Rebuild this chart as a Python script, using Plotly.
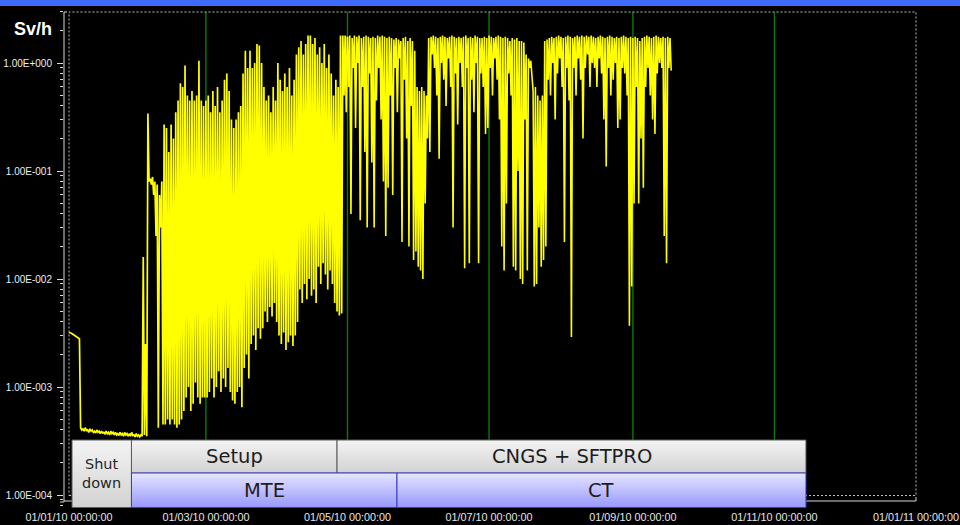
import numpy as np
import pandas as pd
import plotly.graph_objects as go

# Dose rate in Sv/h, one daily maximum (00:00) and one daily minimum (12:00)
jan_hi = [3.2e-3, 3.15e-3, 3.05e-3, 2.95e-3, 2.85e-3, 4.2e-4, 4.1e-4, 4.2e-4, 4.0e-4, 4.1e-4,
          4.0e-4, 3.9e-4, 4.0e-4, 3.9e-4, 3.9e-4, 3.8e-4, 3.9e-4, 3.8e-4, 3.9e-4, 3.8e-4,
          3.8e-4, 3.7e-4, 3.8e-4, 3.7e-4, 3.8e-4, 3.7e-4, 3.7e-4, 3.8e-4, 3.6e-4, 3.7e-4, 3.6e-4]
jan_lo = [3.2e-3, 3.1e-3, 3.0e-3, 2.9e-3, 2.8e-3, 4.0e-4, 3.9e-4, 3.95e-4, 3.8e-4, 3.9e-4,
          3.8e-4, 3.75e-4, 3.8e-4, 3.7e-4, 3.75e-4, 3.65e-4, 3.7e-4, 3.6e-4, 3.7e-4, 3.6e-4,
          3.6e-4, 3.55e-4, 3.6e-4, 3.5e-4, 3.6e-4, 3.5e-4, 3.5e-4, 3.55e-4, 3.45e-4, 3.5e-4, 3.45e-4]
feb_hi = [3.6e-4, 0.016, 2.5e-3, 0.34, 0.085, 0.088, 0.08, 0.075, 0.06, 0.08,
          0.27, 0.25, 0.15, 0.27, 0.2, 0.35, 0.45, 0.65, 0.6, 0.95,
          0.5, 0.45, 0.55, 0.45, 0.5, 1.05, 0.45, 0.4]
feb_lo = [3.5e-4, 3.6e-4, 3.5e-4, 0.08, 0.075, 0.06, 0.025, 4.2e-4, 0.03, 4.5e-4,
          4.5e-4, 5e-4, 4.5e-4, 5e-4, 4.5e-4, 4.2e-4, 4.5e-4, 5e-4, 6e-4, 8e-4,
          1.0e-3, 6e-4, 7e-4, 1.1e-3, 8e-4, 7e-4, 8e-4, 8e-4]
mar_hi = [0.45, 0.5, 0.35, 0.55, 0.4, 0.6, 0.35, 0.45, 0.7, 0.8,
          0.55, 0.3, 0.25, 0.3, 0.35, 0.4, 0.8, 1.3, 0.9, 1.3,
          0.9, 1.0, 1.5, 1.45, 1.0, 0.6, 0.45, 0.5, 0.35, 0.6, 0.45]
mar_lo = [8e-4, 9e-4, 1.2e-3, 8e-4, 1.0e-3, 1.4e-3, 9e-4, 1.2e-3, 1.0e-3, 1.5e-3,
          9e-4, 7.5e-4, 7e-4, 9e-4, 1e-3, 6.5e-4, 1.5e-3, 2e-3, 1.2e-3, 2.5e-3,
          3e-3, 2.2e-3, 3.5e-3, 2.8e-3, 3.5e-3, 5e-3, 4e-3, 5.5e-3, 4.5e-3, 6e-3, 4e-3]
apr_hi = [1.0, 0.7, 0.55, 0.8, 0.6, 0.9, 0.5, 0.7, 1.2, 1.4,
          1.6, 1.2, 1.5, 1.8, 1.8, 1.5, 1.7, 1.2, 1.4, 1.0,
          1.5, 0.9, 1.2, 0.8, 0.5, 0.7, 0.6, 1.8, 1.8, 1.8]
apr_lo = [3e-3, 2.5e-3, 3.2e-3, 2.2e-3, 2.6e-3, 3e-3, 2.4e-3, 3e-3, 4e-3, 8e-3,
          6e-3, 9e-3, 6.5e-3, 1e-2, 7e-3, 8e-3, 6e-3, 1.3e-2, 9e-3, 1.4e-2,
          1.1e-2, 8e-3, 1.2e-2, 9e-3, 6e-3, 5e-3, 4.6e-3, 4.8e-3, 0.5, 0.35]
may_hi = [1.75, 1.8, 1.7, 1.8, 1.75, 1.8, 1.7, 1.75, 1.8, 1.75,
          1.7, 1.75, 1.7, 1.8, 1.75, 1.8, 1.75, 1.7, 1.75, 1.7,
          1.65, 1.7, 1.65, 1.6, 1.7, 1.75, 1.6, 1.7, 1.6, 1.3, 0.6]
may_lo = [0.6, 0.04, 0.9, 0.25, 1.0, 0.035, 0.6, 0.15, 0.03, 0.8,
          0.12, 0.03, 0.45, 0.9, 0.3, 0.08, 0.025, 0.07, 0.5, 0.06,
          0.9, 0.35, 1.1, 0.022, 0.7, 0.2, 0.02, 0.4, 0.015, 0.018, 0.013]
jun_hi = [0.55, 0.6, 0.55, 0.5, 1.7, 1.75, 1.8, 1.75, 1.7, 1.75,
          1.8, 1.75, 1.7, 1.75, 1.8, 1.75, 1.7, 1.75, 1.7, 1.75,
          1.8, 1.7, 1.75, 1.7, 1.8, 1.75, 1.7, 1.7, 1.75, 1.7]
jun_lo = [0.012, 0.01, 0.05, 0.2, 0.15, 1.2, 0.9, 0.5, 0.13, 1.0,
          0.7, 0.4, 1.1, 0.6, 0.03, 0.8, 0.27, 1.0, 0.6, 0.0126,
          0.9, 0.014, 0.7, 0.35, 1.0, 0.014, 0.8, 0.6, 0.22, 0.25]
jul_hi = [1.8, 1.75, 1.7, 1.75, 1.8, 1.75, 1.7, 1.75, 1.7, 1.6,
          1.7, 1.65, 1.7, 1.6, 1.6, 1.55, 1.2, 1.1, 1.05, 0.55,
          0.6, 0.5, 0.45, 0.5, 1.6, 1.65, 1.7, 1.75, 1.7, 1.75, 1.8]
jul_lo = [0.9, 0.5, 1.1, 0.7, 0.3, 0.02, 0.012, 0.05, 0.8, 0.5,
          0.013, 0.012, 0.1, 0.01, 0.009, 0.3, 0.012, 0.9, 0.8, 0.0085,
          0.009, 0.03, 0.013, 0.015, 0.02, 0.7, 0.5, 1.0, 0.3, 0.8, 1.1]
aug_hi = [1.75, 1.7, 1.75, 1.8, 1.75, 1.7, 1.75, 1.8, 1.75, 1.8,
          1.75, 1.8, 1.75, 1.8, 1.75, 1.7, 1.75, 1.8, 1.75, 1.7,
          1.75, 1.8, 1.75, 1.7, 1.75, 1.7, 1.75, 1.8, 1.75, 1.7, 1.75]
aug_lo = [0.6, 0.022, 0.9, 0.45, 0.0029, 0.9, 0.5, 1.1, 0.7, 0.2,
          0.9, 1.2, 0.6, 1.0, 0.9, 0.6, 1.1, 0.8, 0.3, 0.11,
          0.9, 0.5, 0.7, 1.0, 0.25, 0.3, 0.9, 0.8, 0.5, 0.0037, 0.0085]
sep_hi = [1.7, 1.75, 1.7, 1.6, 1.7, 1.75, 1.8, 1.75, 1.7, 1.75,
          1.8, 1.75, 1.7, 1.75, 1.7, 1.75, 1.7]
sep_lo = [0.05, 0.6, 0.05, 0.2, 0.07, 0.6, 0.9, 0.5, 0.3, 0.22,
          0.8, 1.0, 0.9, 0.025, 0.014, 0.9, 0.85]

# Machine phases shown under the trace
shutdown_span = ["2010-01-02 07:00", "2010-01-27 22:00"]
beam_labels = ["Setup", "CNGS + SFTPRO"]
beam_edges = ["2010-01-27 22:00", "2010-04-26 12:00", "2010-11-14 14:00"]
extraction_labels = ["MTE", "CT"]
extraction_edges = ["2010-01-27 22:00", "2010-05-22 08:00", "2010-11-14 14:00"]

# Axis ticks
x_ticks = ["2010-01-01", "2010-03-01", "2010-05-01", "2010-07-01",
           "2010-09-01", "2010-11-01", "2011-01-01"]
y_exponents = [-4, -3, -2, -1, 0]

# ---------------------------------------------------------------------------
hi = jan_hi + feb_hi + mar_hi + apr_hi + may_hi + jun_hi + jul_hi + aug_hi + sep_hi
lo = jan_lo + feb_lo + mar_lo + apr_lo + may_lo + jun_lo + jul_lo + aug_lo + sep_lo
dose = []
for h, l in zip(hi, lo):
    dose += [h, l]
t_start = pd.Timestamp("2010-01-01")
times = t_start + pd.to_timedelta(np.arange(len(dose)) * 12, unit="h")

# the tightly cycling commissioning months are drawn with a heavier pen
n_dense = 2 * (len(jan_hi) + len(feb_hi) + len(mar_hi) + len(apr_hi))

# Page geometry (pixels)
PW, PH = 960, 525
L, R, T, B = 64, 918, 10, 509
W, H = R - L, B - T
X_FIRST, X_LAST = 69, 916        # pixel columns of the first / last date tick
Y_UNIT, Y_DECADE = 63, 108       # pixel row of 1 Sv/h, pixels per decade


def py(p):
    """Pixel row -> fraction of plot height."""
    return (B - p) / H


def px(p):
    """Pixel column -> fraction of plot width."""
    return (p - L) / W


t0, t1 = pd.Timestamp(x_ticks[0]), pd.Timestamp(x_ticks[-1])
per_px = (t1 - t0) / (X_LAST - X_FIRST)
x_range = [t0 - (X_FIRST - L) * per_px, t1 + (R - X_LAST) * per_px]
y_range = [-(B - Y_UNIT) / Y_DECADE, (Y_UNIT - T) / Y_DECADE]

fig = go.Figure()

fig.add_trace(go.Scatter(
    x=times[:n_dense + 1], y=dose[:n_dense + 1], mode="lines",
    line=dict(color="#ffff00", width=1.7),
    hoverinfo="skip", showlegend=False,
))
fig.add_trace(go.Scatter(
    x=times[n_dense:], y=dose[n_dense:], mode="lines",
    line=dict(color="#ffff00", width=1.6),
    hoverinfo="skip", showlegend=False,
))

TOP_ROW = (py(473), py(440))
BOT_ROW = (py(507.5), py(473))
GREY = dict(bottom="#d2d2d2", top="#f4f4f4", edge="#5c5c5c")
BLUE = dict(bottom="#9898fc", top="#e6e6ff", edge="#3a3ad0")


def box(x0, x1, y0, y1, style):
    fig.add_trace(go.Scatter(
        x=[x0, x1, x1, x0, x0], y=[y0, y0, y1, y1, y0],
        xaxis="x", yaxis="y2", mode="lines",
        line=dict(color=style["edge"], width=1),
        fill="toself",
        fillgradient=dict(type="vertical",
                          colorscale=[[0, style["bottom"]], [1, style["top"]]]),
        hoverinfo="skip", showlegend=False,
    ))


def midpoint(a, b):
    a, b = pd.Timestamp(a), pd.Timestamp(b)
    return a + (b - a) / 2


annotations = []
box(shutdown_span[0], shutdown_span[1], BOT_ROW[0], TOP_ROW[1], GREY)
annotations.append(dict(
    x=midpoint(*shutdown_span), y=(BOT_ROW[0] + TOP_ROW[1]) / 2, xref="x", yref="y2",
    text="Shut<br>down", showarrow=False,
    font=dict(family="DejaVu Sans", size=14.5, color="#262626")))
for i, lab in enumerate(beam_labels):
    box(beam_edges[i], beam_edges[i + 1], TOP_ROW[0], TOP_ROW[1], GREY)
    annotations.append(dict(
        x=midpoint(beam_edges[i], beam_edges[i + 1]), y=sum(TOP_ROW) / 2,
        xref="x", yref="y2", text=lab, showarrow=False,
        font=dict(family="DejaVu Sans", size=19.5, color="#1e1e1e")))
for i, lab in enumerate(extraction_labels):
    box(extraction_edges[i], extraction_edges[i + 1], BOT_ROW[0], BOT_ROW[1], BLUE)
    annotations.append(dict(
        x=midpoint(extraction_edges[i], extraction_edges[i + 1]), y=sum(BOT_ROW) / 2,
        xref="x", yref="y2", text=lab, showarrow=False,
        font=dict(family="DejaVu Sans", size=19.5, color="#1e1e1e")))

annotations.append(dict(
    x=px(54), y=py(29), xref="paper", yref="paper", xanchor="right", yanchor="middle",
    text="<b>Sv/h</b>", showarrow=False,
    font=dict(family="Liberation Sans", size=18, color="#ffffff")))

shapes = []
# window title strip
shapes.append(dict(type="rect", xref="paper", yref="paper",
                   x0=px(0), x1=px(PW), y0=py(6), y1=py(0),
                   fillcolor="#3f6bff", line=dict(width=0), layer="above"))
# month gridlines
for d in x_ticks[1:-1]:
    shapes.append(dict(type="line", xref="x", yref="y domain",
                       x0=d, x1=d, y0=py(495), y1=py(12),
                       line=dict(color="#0b7a0b", width=1.4), layer="below"))
# dotted frame of the data area
shapes.append(dict(type="rect", xref="x", yref="y domain",
                   x0=x_ticks[0], x1=x_ticks[-1], y0=py(495.5), y1=py(12),
                   line=dict(color="#bdbdbd", width=1, dash="2px,2px"), layer="below"))
# solid axis lines
shapes.append(dict(type="path", xref="paper", yref="paper",
                   path=f"M {px(67)},{py(12)} L {px(64)},{py(12)} L {px(64)},{py(502)} L {px(60)},{py(502)}",
                   line=dict(color="#d8d8d8", width=1), layer="below"))
shapes.append(dict(type="path", xref="paper", yref="paper",
                   path=f"M {px(64)},{py(501)} L {px(916)},{py(501)} L {px(916)},{py(497)}",
                   line=dict(color="#d8d8d8", width=1), layer="below"))

y_minor = [k * 10.0 ** e for e in range(-5, 1) for k in range(2, 10)]

fig.update_layout(
    width=PW, height=PH,
    margin=dict(l=L, r=PW - R, t=T, b=PH - B, pad=0, autoexpand=False),
    paper_bgcolor="#000000", plot_bgcolor="#000000",
    showlegend=False,
    xaxis=dict(
        type="date", range=x_range, automargin=False,
        tickmode="array", tickvals=x_ticks,
        ticktext=[pd.Timestamp(d).strftime("%d/%m/%y %H:%M:%S") for d in x_ticks],
        ticks="", showgrid=False, zeroline=False, showline=False,
        tickfont=dict(family="Liberation Sans", size=10.8, color="#e6e6e6"),
        ticklabeloverflow="allow",
    ),
    yaxis=dict(
        type="log", range=y_range, automargin=False,
        tickmode="array", tickvals=[10.0 ** e for e in y_exponents],
        ticktext=[f"1.00E{e:+04d}" for e in y_exponents],
        ticks="outside", ticklen=6, tickwidth=1, tickcolor="#d8d8d8",
        ticklabelstandoff=3,
        minor=dict(tickvals=y_minor, ticks="outside", ticklen=3.5, tickcolor="#d8d8d8",
                   showgrid=False),
        showgrid=False, zeroline=False, showline=False,
        tickfont=dict(family="Liberation Sans", size=10, color="#eeeeee"),
    ),
    yaxis2=dict(overlaying="y", range=[0, 1], visible=False, fixedrange=True),
    shapes=shapes,
    annotations=annotations,
)

fig.write_html("out.html")
